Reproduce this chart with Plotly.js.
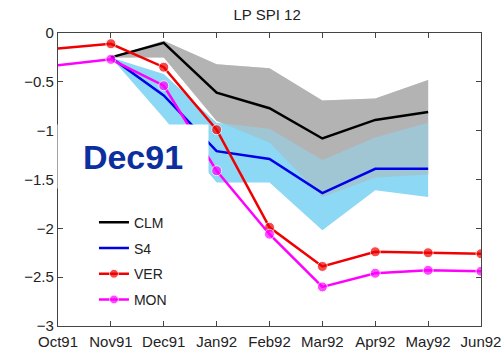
<!DOCTYPE html>
<html>
<head>
<meta charset="utf-8">
<script src="https://cdn.plot.ly/plotly-3.0.1.min.js"></script>
<style>
html,body{margin:0;padding:0;background:#fff;}
#chart{width:504px;height:351px;}
</style>
</head>
<body>
<div id="chart"></div>
<script>
// Months (x categories)
const months = ["Oct91","Nov91","Dec91","Jan92","Feb92","Mar92","Apr92","May92","Jun92"];
// Forecast months (from Nov91)
const fcMonths = ["Nov91","Dec91","Jan92","Feb92","Mar92","Apr92","May92"];

// Observed-like series
const ver = [-0.16, -0.11, -0.35, -0.99, -1.99, -2.39, -2.24, -2.25, -2.26];
const mon = [-0.33, -0.27, -0.54, -1.41, -2.06, -2.60, -2.46, -2.43, -2.44];

// Forecast means
const clm = [-0.25, -0.10, -0.61, -0.77, -1.08, -0.89, -0.81];
const s4  = [-0.25, -0.64, -1.21, -1.29, -1.64, -1.39, -1.39];

// Forecast spread bands
const clmUpper = [-0.25, -0.08, -0.32, -0.36, -0.69, -0.67, -0.48];
const clmLower = [-0.25, -0.25, -0.90, -1.12, -1.68, -1.48, -1.45];
const s4Upper  = [-0.25, -0.42, -0.92, -0.98, -1.30, -1.07, -0.92];
const s4Lower  = [-0.25, -0.87, -1.53, -1.53, -2.02, -1.61, -1.68];

const yTicks = [0, -0.5, -1, -1.5, -2, -2.5, -3];

function band(upper, lower, color, opacity) {
  return {
    x: fcMonths.concat(fcMonths.slice().reverse()),
    y: upper.concat(lower.slice().reverse()),
    type: "scatter", mode: "lines", fill: "toself",
    fillcolor: color, line: {width: 0, color: "rgba(0,0,0,0)"},
    opacity: opacity, showlegend: false, hoverinfo: "skip"
  };
}

const markerSizes = months.map((m, i) => i === 0 ? 0 : 10);

const traces = [
  band(clmUpper, clmLower, "rgb(179,179,179)", 1),
  band(s4Upper, s4Lower, "rgb(140,216,245)", 1),
  band(clmUpper, clmLower, "rgb(179,179,179)", 0.5),
  {x: fcMonths, y: clm, type: "scatter", mode: "lines", name: "CLM",
   legendgroup: "a", line: {color: "#000000", width: 2.5}},
  {x: fcMonths, y: s4, type: "scatter", mode: "lines", name: "S4",
   legendgroup: "b", line: {color: "#0000e8", width: 2.5}},
  {x: months, y: ver, type: "scatter", mode: "lines+markers", name: "VER",
   legendgroup: "c", line: {color: "#f00000", width: 2.5},
   marker: {color: "#f00000", size: markerSizes, symbol: "circle"}},
  {x: months, y: mon, type: "scatter", mode: "lines+markers", name: "MON",
   legendgroup: "d", line: {color: "#ff00ff", width: 2.5},
   marker: {color: "#ff00ff", size: markerSizes, symbol: "circle"}}
];

const axisFont = {family: "Liberation Sans, Arial, sans-serif", size: 15, color: "#222"};

const layout = {
  width: 504, height: 351,
  margin: {l: 58, r: 23, t: 33, b: 25},
  paper_bgcolor: "#fff", plot_bgcolor: "#fff",
  font: axisFont,
  title: {text: "LP SPI 12", font: {family: "Liberation Sans, Arial, sans-serif", size: 15, color: "#222"},
          x: 0.53, xanchor: "center", y: 0.957, yanchor: "middle", yref: "container"},
  xaxis: {type: "category", categoryorder: "array", categoryarray: months,
          range: [0, 8], showgrid: false, zeroline: false,
          showline: true, linecolor: "#444", linewidth: 1.2, mirror: "ticks",
          ticks: "inside", ticklen: 5, tickcolor: "#444", tickfont: axisFont,
          ticklabelstandoff: 2},
  yaxis: {range: [-3, 0], tickvals: yTicks, showgrid: false, zeroline: false,
          showline: true, linecolor: "#444", linewidth: 1.2, mirror: "ticks",
          ticks: "inside", ticklen: 5, tickcolor: "#444", tickfont: axisFont},
  showlegend: true,
  legend: {x: 0.085, xanchor: "left", y: 0.407, yanchor: "top",
           bgcolor: "rgba(0,0,0,0)", borderwidth: 0, tracegroupgap: 4.5,
           font: {family: "Liberation Sans, Arial, sans-serif", size: 14, color: "#222"}},
  annotations: [{
    text: "<b>Dec91</b>", xref: "paper", yref: "paper",
    x: -0.002, xanchor: "left", y: 0.689, yanchor: "top",
    width: 150, height: 63, bgcolor: "#ffffff", borderpad: 0,
    showarrow: false, align: "center", valign: "middle",
    font: {family: "Liberation Sans, Arial, sans-serif", size: 34, color: "#0b2f9f"}
  }]
};

Plotly.newPlot("chart", traces, layout, {staticPlot: true, displayModeBar: false});
</script>
</body>
</html>
